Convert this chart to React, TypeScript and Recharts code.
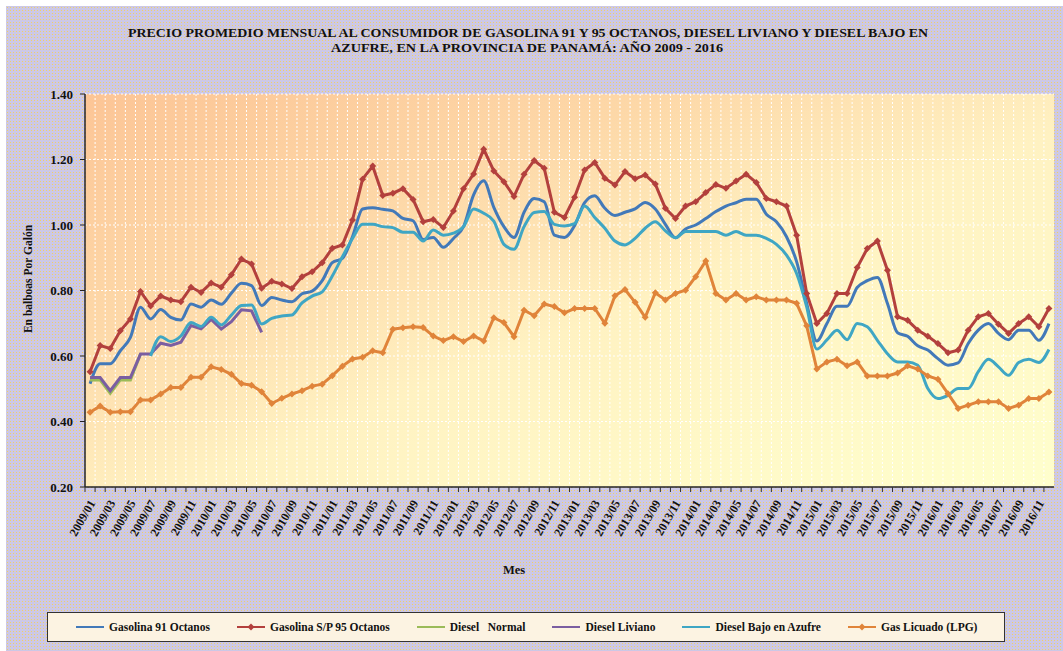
import { LineChart, Line, XAxis, YAxis, CartesianGrid } from 'recharts'

const MONTHS = [
  '2009/01', '2009/02', '2009/03', '2009/04', '2009/05', '2009/06', '2009/07', '2009/08', '2009/09', '2009/10', '2009/11', '2009/12',
  '2010/01', '2010/02', '2010/03', '2010/04', '2010/05', '2010/06', '2010/07', '2010/08', '2010/09', '2010/10', '2010/11', '2010/12',
  '2011/01', '2011/02', '2011/03', '2011/04', '2011/05', '2011/06', '2011/07', '2011/08', '2011/09', '2011/10', '2011/11', '2011/12',
  '2012/01', '2012/02', '2012/03', '2012/04', '2012/05', '2012/06', '2012/07', '2012/08', '2012/09', '2012/10', '2012/11', '2012/12',
  '2013/01', '2013/02', '2013/03', '2013/04', '2013/05', '2013/06', '2013/07', '2013/08', '2013/09', '2013/10', '2013/11', '2013/12',
  '2014/01', '2014/02', '2014/03', '2014/04', '2014/05', '2014/06', '2014/07', '2014/08', '2014/09', '2014/10', '2014/11', '2014/12',
  '2015/01', '2015/02', '2015/03', '2015/04', '2015/05', '2015/06', '2015/07', '2015/08', '2015/09', '2015/10', '2015/11', '2015/12',
  '2016/01', '2016/02', '2016/03', '2016/04', '2016/05', '2016/06', '2016/07', '2016/08', '2016/09', '2016/10', '2016/11', '2016/12',
]

// precios en balboas por galón
const GASOLINA_91 = [
  0.515, 0.576, 0.576, 0.616, 0.657, 0.749, 0.713, 0.742, 0.718, 0.71, 0.759, 0.749,
  0.771, 0.758, 0.792, 0.822, 0.815, 0.754, 0.779, 0.771, 0.766, 0.79, 0.798, 0.83,
  0.885, 0.898, 0.964, 1.049, 1.053, 1.048, 1.043, 1.02, 1.013, 0.956, 0.962, 0.932,
  0.959, 0.995, 1.092, 1.135, 1.054, 0.995, 0.962, 1.039, 1.081, 1.071, 0.969, 0.962,
  0.998, 1.068, 1.089, 1.051, 1.029, 1.039, 1.049, 1.069, 1.049, 1.002, 0.961, 0.988,
  1.0, 1.02, 1.041, 1.058, 1.068, 1.079, 1.079, 1.033, 1.01, 0.964, 0.888, 0.761,
  0.646, 0.699, 0.752, 0.752, 0.809, 0.83, 0.84, 0.76, 0.671, 0.66, 0.631, 0.618,
  0.592, 0.572, 0.579, 0.638, 0.679, 0.699, 0.669, 0.65, 0.679, 0.679, 0.648, 0.699,
]

const GASOLINA_95 = [
  0.552, 0.632, 0.623, 0.677, 0.713, 0.797, 0.753, 0.783, 0.771, 0.766, 0.81, 0.794,
  0.823, 0.81, 0.848, 0.896, 0.881, 0.807, 0.828, 0.82, 0.806, 0.842, 0.857, 0.885,
  0.929, 0.939, 1.015, 1.14, 1.18, 1.09, 1.097, 1.111, 1.078, 1.01, 1.017, 0.992,
  1.043, 1.111, 1.156, 1.231, 1.165, 1.132, 1.087, 1.155, 1.197, 1.173, 1.039, 1.023,
  1.085, 1.168, 1.191, 1.143, 1.122, 1.163, 1.141, 1.153, 1.125, 1.051, 1.02, 1.058,
  1.071, 1.099, 1.124, 1.112, 1.134, 1.155, 1.13, 1.081, 1.071, 1.058, 0.969, 0.791,
  0.699, 0.73, 0.791, 0.791, 0.87, 0.928, 0.951, 0.862, 0.72, 0.709, 0.679, 0.66,
  0.638, 0.61, 0.618, 0.679, 0.72, 0.73, 0.697, 0.669, 0.699, 0.72, 0.689, 0.745,
]

const DIESEL_NORMAL = [0.527, 0.527, 0.486, 0.527, 0.527, 0.606]

const DIESEL_LIVIANO = [
  0.534, 0.534, 0.494, 0.534, 0.534, 0.606, 0.606, 0.639, 0.632, 0.642, 0.693, 0.683,
  0.712, 0.682, 0.705, 0.741, 0.738, 0.672,
]

const DIESEL_BAJO_AZUFRE = [
  null, null, null, null, null, null, 0.6, 0.659, 0.644, 0.661, 0.702, 0.69,
  0.718, 0.695, 0.725, 0.754, 0.756, 0.698, 0.715, 0.722, 0.725, 0.762, 0.783, 0.796,
  0.844, 0.903, 0.959, 1.002, 1.002, 0.995, 0.992, 0.978, 0.978, 0.951, 0.985, 0.969,
  0.975, 0.995, 1.049, 1.036, 1.012, 0.941, 0.926, 0.995, 1.038, 1.041, 1.002, 0.997,
  1.004, 1.058, 1.023, 0.99, 0.951, 0.939, 0.959, 0.99, 1.01, 0.982, 0.961, 0.98,
  0.98, 0.98, 0.98, 0.969, 0.98, 0.969, 0.969, 0.959, 0.941, 0.908, 0.852, 0.75,
  0.621, 0.649, 0.679, 0.65, 0.699, 0.689, 0.648, 0.607, 0.582, 0.582, 0.572, 0.501,
  0.47, 0.48, 0.501, 0.501, 0.552, 0.59, 0.567, 0.541, 0.58, 0.59, 0.58, 0.62,
]

const GAS_LICUADO = [
  0.428, 0.447, 0.428, 0.43, 0.43, 0.466, 0.466, 0.484, 0.504, 0.504, 0.535, 0.535,
  0.567, 0.559, 0.544, 0.516, 0.511, 0.491, 0.455, 0.471, 0.484, 0.494, 0.508, 0.514,
  0.54, 0.569, 0.591, 0.596, 0.616, 0.61, 0.682, 0.686, 0.689, 0.687, 0.661, 0.647,
  0.659, 0.644, 0.661, 0.646, 0.717, 0.702, 0.659, 0.74, 0.723, 0.759, 0.751, 0.732,
  0.745, 0.745, 0.745, 0.7, 0.784, 0.803, 0.764, 0.718, 0.793, 0.771, 0.791, 0.801,
  0.842, 0.89, 0.791, 0.771, 0.791, 0.771, 0.781, 0.771, 0.771, 0.771, 0.761, 0.692,
  0.56, 0.582, 0.59, 0.57, 0.582, 0.539, 0.539, 0.539, 0.548, 0.57, 0.56, 0.539,
  0.529, 0.485, 0.44, 0.45, 0.46, 0.46, 0.46, 0.44, 0.45, 0.47, 0.47, 0.49,
]

const Y_TICKS = [0.2, 0.4, 0.6, 0.8, 1.0, 1.2, 1.4]

const SERIES = [
  { key: 'g91', name: 'Gasolina 91 Octanos', color: '#4279b9', marker: false, curve: 'monotone' },
  { key: 'g95', name: 'Gasolina S/P 95 Octanos', color: '#b3403d', marker: true, curve: 'linear' },
  { key: 'dn', name: 'Diesel   Normal', color: '#9bbb59', marker: false, curve: 'linear' },
  { key: 'dl', name: 'Diesel Liviano', color: '#7b5ea1', marker: false, curve: 'linear' },
  { key: 'dba', name: 'Diesel Bajo en Azufre', color: '#3fa6c4', marker: false, curve: 'monotone' },
  { key: 'lpg', name: 'Gas Licuado (LPG)', color: '#e0843a', marker: true, curve: 'linear' },
] as const

const data = MONTHS.map((m, i) => ({
  m,
  g91: GASOLINA_91[i],
  g95: GASOLINA_95[i],
  dn: DIESEL_NORMAL[i] ?? null,
  dl: DIESEL_LIVIANO[i] ?? null,
  dba: DIESEL_BAJO_AZUFRE[i],
  lpg: GAS_LICUADO[i],
}))

const W = 1063
const H = 651
const MARGIN = { top: 94, right: 9, left: 25, bottom: 74 }
const Y_AXIS_W = 60
const X_AXIS_H = 90
const BAND = (W - MARGIN.left - MARGIN.right - Y_AXIS_W) / MONTHS.length
const FONT = '"Liberation Serif", "Times New Roman", serif'

function MonthTick(props: any) {
  const { x, y, payload, index } = props
  const ax = x + 2
  const ay = y + 14
  return (
    <g>
      <line x1={x - BAND / 2} x2={x - BAND / 2} y1={y} y2={y + 5} stroke="#333" />
      {index % 2 === 0 && (
        <text
          x={ax}
          y={ay}
          dy="0.35em"
          textAnchor="end"
          transform={`rotate(-60 ${ax} ${ay})`}
          fontFamily={FONT}
          fontWeight="bold"
          fontSize={12}
          fill="#111"
        >
          {payload.value}
        </text>
      )}
    </g>
  )
}

function diamond(color: string) {
  return (p: any) => {
    if (p.cy == null) return <g key={p.index} />
    const r = 3.5
    return (
      <path
        key={p.index}
        d={`M${p.cx},${p.cy - r}L${p.cx + r},${p.cy}L${p.cx},${p.cy + r}L${p.cx - r},${p.cy}Z`}
        fill={color}
      />
    )
  }
}

function LegendBox() {
  return (
    <div
      style={{
        position: 'absolute',
        left: 47,
        top: 612,
        width: 958,
        height: 30,
        boxSizing: 'border-box',
        border: '1.5px solid #333',
        background: '#fcf3e2',
        display: 'flex',
        alignItems: 'center',
        paddingLeft: 28,
        gap: 27,
        fontFamily: FONT,
        fontWeight: 'bold',
        fontSize: 11.5,
        color: '#111',
      }}
    >
      {SERIES.map((s) => (
        <div key={s.key} style={{ display: 'flex', alignItems: 'center' }}>
          <svg width={28} height={10} style={{ marginRight: 5 }}>
            <line x1={0} x2={28} y1={5} y2={5} stroke={s.color} strokeWidth={2} />
            {s.marker && <path d="M14,1.5L17.5,5L14,8.5L10.5,5Z" fill={s.color} />}
          </svg>
          <span style={{ whiteSpace: 'pre' }}>{s.name}</span>
        </div>
      ))}
    </div>
  )
}

export default function App() {
  return (
    <div style={{ position: 'absolute', left: 0, top: 0, width: W, height: H, background: '#fff', overflow: 'hidden' }}>
      <div
        style={{
          position: 'absolute',
          left: 6,
          top: 6,
          right: 0,
          bottom: 0,
          backgroundColor: '#ccc8e6',
          backgroundImage: 'radial-gradient(circle, #efd06a 0.7px, transparent 0.95px)',
          backgroundSize: '3px 3px',
        }}
      />
      <div style={{ position: 'absolute', left: 0, top: 0 }}>
        <LineChart width={W} height={H} data={data} margin={MARGIN}>
          <defs>
            <linearGradient id="plotBg" x1="0" y1="0" x2="1" y2="1">
              <stop offset="0" stopColor="#fcc596" />
              <stop offset="0.3" stopColor="#fdd8a8" />
              <stop offset="0.55" stopColor="#fff2c2" />
              <stop offset="1" stopColor="#ffffcd" />
            </linearGradient>
          </defs>
          <CartesianGrid
            fill="url(#plotBg)"
            fillOpacity={1}
            stroke="#ffffff"
            strokeDasharray="2 2"
            verticalCoordinatesGenerator={({ offset }: any) =>
              MONTHS.map((_, k) => offset.left + k * (offset.width / MONTHS.length))
            }
          />
          <XAxis
            dataKey="m"
            scale="band"
            interval={0}
            height={X_AXIS_H}
            tickSize={0}
            tickMargin={0}
            tickLine={false}
            axisLine={{ stroke: '#222', strokeWidth: 1.5 }}
            tick={<MonthTick />}
          />
          <XAxis
            xAxisId="top"
            orientation="top"
            dataKey="m"
            scale="band"
            height={0}
            tick={false}
            tickLine={false}
            axisLine={{ stroke: '#9a9a9a' }}
          />
          <YAxis
            domain={[0.2, 1.4]}
            ticks={Y_TICKS}
            width={Y_AXIS_W}
            tickSize={5}
            tickMargin={7}
            tickFormatter={(v: number) => v.toFixed(2)}
            axisLine={{ stroke: '#222', strokeWidth: 1.5 }}
            tickLine={{ stroke: '#222' }}
            tick={{ fontFamily: FONT, fontWeight: 'bold', fontSize: 13, fill: '#111' }}
          />
          <YAxis
            yAxisId="right"
            orientation="right"
            domain={[0.2, 1.4]}
            width={0}
            tick={false}
            tickLine={false}
            axisLine={{ stroke: '#9a9a9a' }}
          />
          {SERIES.map((s) => (
            <Line
              key={s.key}
              dataKey={s.key}
              name={s.name}
              type={s.curve}
              stroke={s.color}
              strokeWidth={3}
              dot={s.marker ? diamond(s.color) : false}
              activeDot={false}
              connectNulls={false}
              isAnimationActive={false}
            />
          ))}
        </LineChart>
      </div>
      <svg width={W} height={H} style={{ position: 'absolute', left: 0, top: 0, pointerEvents: 'none' }}>
        <g fontFamily={FONT} fontWeight="bold" fill="#111" textAnchor="middle">
          <text x={528} y={36.5} fontSize={13} textLength={800} lengthAdjust="spacingAndGlyphs">
            PRECIO PROMEDIO MENSUAL AL CONSUMIDOR DE GASOLINA 91 Y 95 OCTANOS, DIESEL LIVIANO Y DIESEL BAJO EN
          </text>
          <text x={527} y={51.5} fontSize={13} textLength={392} lengthAdjust="spacingAndGlyphs">
            AZUFRE, EN LA PROVINCIA DE PANAMÁ: AÑO 2009 - 2016
          </text>
          <text x={514} y={574} fontSize={12.5}>
            Mes
          </text>
          <text x={32} y={279} fontSize={11.5} transform="rotate(-90 32 279)">
            En balboas Por Galón
          </text>
        </g>
      </svg>
      <LegendBox />
    </div>
  )
}
